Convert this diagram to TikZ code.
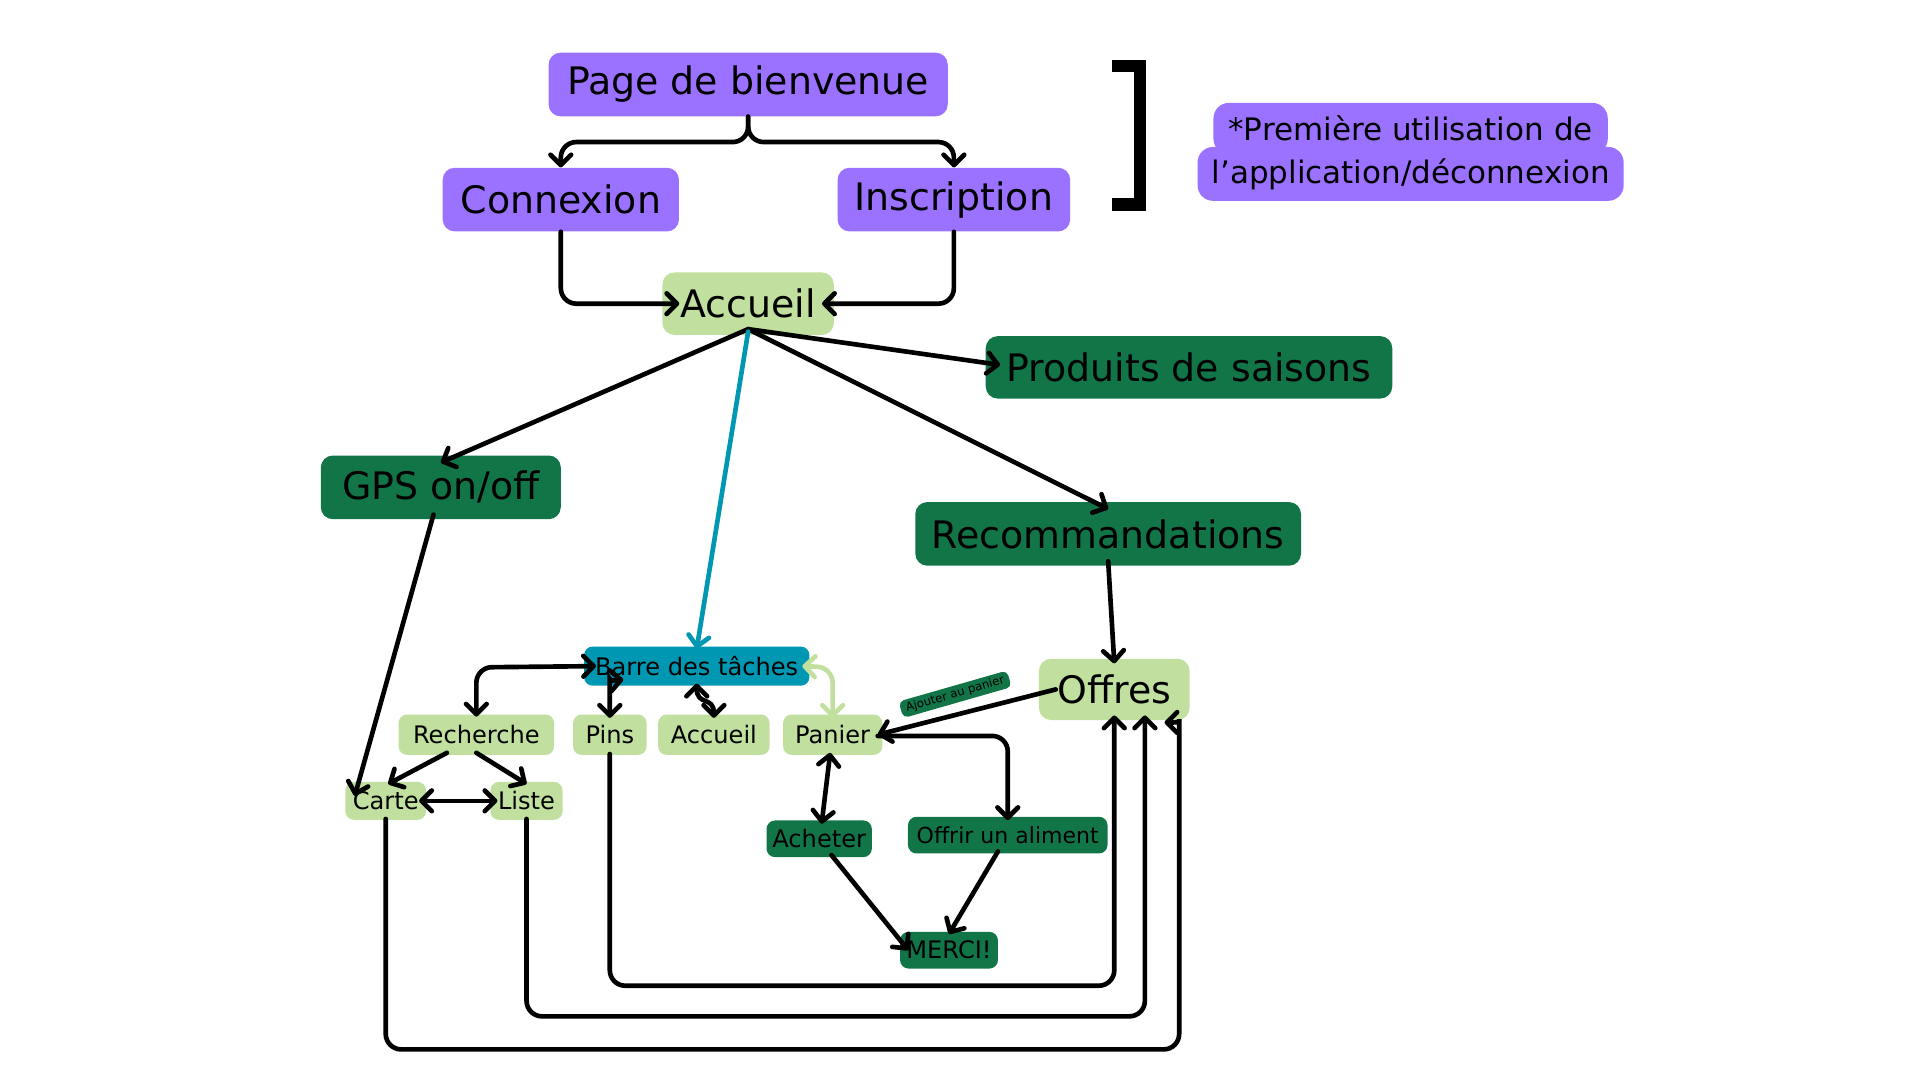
\documentclass[tikz,border=0pt]{standalone}
\usepackage{fontspec}
\setmainfont{DejaVu Sans}
\usepackage{tikz}
\usetikzlibrary{arrows.meta}
\usetikzlibrary{calc}

\definecolor{firstpurple}{RGB}{155,114,255}
\definecolor{pagegreen}{RGB}{193,223,158}
\definecolor{deepgreen}{RGB}{17,117,72}
\definecolor{barteal}{RGB}{0,151,178}

\def\pxu{0.25mm}

\begin{document}
\begin{tikzpicture}[x=0.25mm, y=-0.25mm,
  >={Straight Barb[length=6pt,width=12pt,round]},
  link/.style={line width=2.7pt, rounded corners=9pt, line cap=round},
  big/.style 2 args={rounded corners=7pt, inner sep=0pt, minimum width=#1*\pxu, minimum height=#2*\pxu, font=\fontsize{22}{26}\selectfont},
  small/.style 2 args={rounded corners=5pt, inner sep=0pt, minimum width=#1*\pxu, minimum height=#2*\pxu, font=\fontsize{14}{17}\selectfont},
  note/.style 2 args={rounded corners=9pt, inner sep=0pt, fill=firstpurple, minimum width=#1*\pxu, minimum height=#2*\pxu, font=\fontsize{18}{22}\selectfont}
]
\useasboundingbox (0,0) rectangle (1568,882);
%%% first use of the app %%%

      \node[big={326}{52}, fill=firstpurple] (pb) at (611,69) {Page de bienvenue};
      \node[big={193}{52}, fill=firstpurple] (cx) at (458,163) {Connexion};
      \node[big={190}{52}, fill=firstpurple] (ins) at (779,163) {Inscription};
      %%
      \draw[link, line width=7pt, line cap=butt, rounded corners=0pt] (908,54) -- (931,54) -- (931,167) -- (908,167);
      \node[note={322}{42}] (note1) at (1152,105) {*Première utilisation de};
      \node[note={348}{44}] (note2) at (1152,142) {l’application/déconnexion};

%%% home %%%

      \node[big={140}{51}, fill=pagegreen] (acc) at (611,248) {Accueil};
      \node[big={332}{51}, fill=deepgreen] (prod) at (971,300) {Produits de saisons};
      \node[big={196}{52}, fill=deepgreen] (gps) at (360,398) {GPS on/off};
      \node[big={315}{52}, fill=deepgreen] (reco) at (905,436) {Recommandations};
      \node[big={123}{50}, fill=pagegreen] (offres) at (910,563) {Offres};
      %%
      \node[small={184}{32}, fill=barteal] (barre) at (569,544) {Barre des tâches};
      \node[small={127}{33}, fill=pagegreen] (rech) at (389,600) {Recherche};
      \node[small={60}{33}, fill=pagegreen] (pins) at (498,600) {Pins};
      \node[small={91}{33}, fill=pagegreen] (acc2) at (583,600) {Accueil};
      \node[small={81}{33}, fill=pagegreen] (panier) at (680,600) {Panier};
      \node[small={66}{31}, fill=pagegreen] (carte) at (315,654) {Carte};
      \node[small={59}{31}, fill=pagegreen] (liste) at (430,654) {Liste};
      \node[small={86}{30}, fill=deepgreen] (ach) at (669,685) {Acheter};
      \node[small={163}{30}, fill=deepgreen, font=\fontsize{12.8}{15}\selectfont] (offrir) at (823,682) {Offrir un aliment};
      \node[small={80}{30}, fill=deepgreen] (merci) at (775,776) {MERCI!};
      \node[rounded corners=3pt, fill=deepgreen, inner sep=0pt, minimum width=92*\pxu, minimum height=14*\pxu, rotate=16, font=\fontsize{6.8}{8}\selectfont] (ajout) at (780,567) {Ajouter au panier};

%%% links %%%

      \draw[link, ->] (pb.south) -- (611,116) -- (458,116) -- (cx.north);
      \draw[link, ->] (pb.south) -- (611,116) -- (779,116) -- (ins.north);
      \draw[link, ->] (cx.south) -- (458,248) -- ($(acc.west)+(14,0)$);
      \draw[link, ->] (ins.south) -- (779,248) -- ($(acc.east)+(-10,0)$);
      %%
      \draw[link, ->] ($(acc.south)+(0,-5)$) -- ($(prod.west)+(12,-2)$);
      \draw[link, ->] ($(acc.south)+(0,-5)$) -- ($(gps.north)+(0,6)$);
      \draw[link, ->] ($(acc.south)+(0,-5)$) -- ($(reco.north)+(0,6)$);
      \draw[link, ->, draw=barteal] ($(acc.south)+(0,-3)$) -- ($(barre.north)+(0,2)$);
      \draw[link, ->] ($(gps.south)+(-6,-4)$) -- ($(carte.west)+(8,-4)$);
      \draw[link, ->] ($(reco.south)+(0,-4)$) -- ($(offres.north)+(0,4)$);
      \draw[link, ->] ($(offres.west)+(14,0)$) -- ($(panier.east)+(-4,0)$);
      %%
      \draw[link, <->] ($(rech.north)+(0,2)$) -- (389,545) -- ($(barre.west)+(10,0)$);
      \draw[link, <->] ($(pins.north)+(0,3)$) -- (498,567) .. controls (498,556) .. (509,555);
      \draw[link, <->] ($(barre.south)+(0,-2)$) .. controls (569,577) and (583,568) .. ($(acc2.north)+(0,3)$);
      \draw[link, <->, draw=pagegreen] ($(barre.east)+(-6,0)$) -- (680,545) -- ($(panier.north)+(0,3)$);
      %%
      \draw[link, ->] ($(rech.south)+(-24,-2)$) -- ($(carte.north)+(2,2)$);
      \draw[link, ->] ($(rech.south)+(0,-2)$) -- ($(liste.north)+(0,2)$);
      \draw[link, <->] ($(carte.east)+(-6,0)$) -- ($(liste.west)+(6,0)$);
      %%
      \draw[link, <->] ($(panier.south)+(-2,-2)$) -- ($(ach.north)+(2,3)$);
      \draw[link, ->] ($(panier.east)+(-4,1)$) -- (823,601) -- ($(offrir.north)+(0,3)$);
      \draw[link, ->] ($(ach.south)+(10,-2)$) -- ($(merci.west)+(7,0)$);
      \draw[link, ->] ($(offrir.south)+(-8,-2)$) -- ($(merci.north)+(0,2)$);
      %%
      \draw[link, ->] ($(pins.south)+(0,-1)$) -- (498,805) -- (910,805) -- ($(offres.south)+(0,-4)$);
      \draw[link, ->] ($(liste.south)+(0,-1)$) -- (430,830) -- (935,830) -- ($(offres.south)+(25,-4)$);
      \draw[link, ->] ($(carte.south)+(0,-1)$) -- (315,857) -- (963,857) -- (963,600) .. controls (963,590) .. (951,590);

\end{tikzpicture}
\end{document}
